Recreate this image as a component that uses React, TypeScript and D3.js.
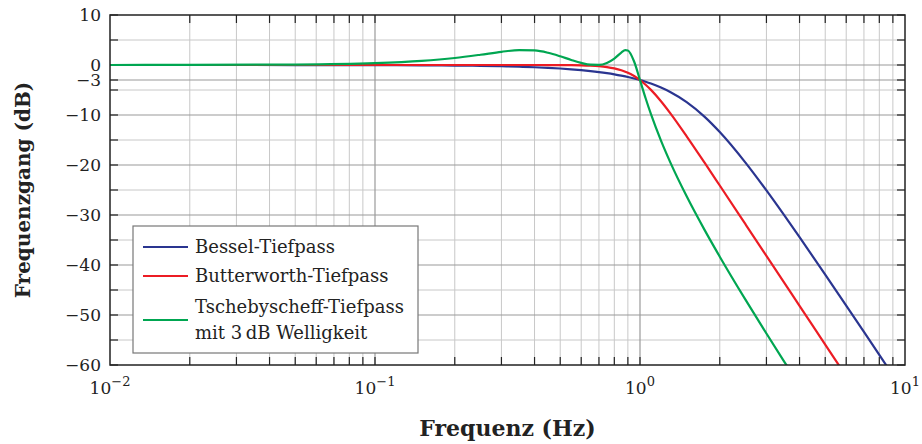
import React, { useEffect, useRef } from 'react';
import * as d3 from 'd3';

// Frequency points (Hz) and the read-off responses (dB)
const freqs = [0.01, 0.02, 0.05, 0.1, 0.15, 0.2, 0.25, 0.3, 0.35, 0.4, 0.45, 0.5, 0.55, 0.6, 0.65, 0.7, 0.75, 0.8, 0.85, 0.88, 0.9, 0.95, 1, 1.05, 1.1, 1.2, 1.3, 1.5, 1.75, 2, 2.5, 3, 3.5, 4, 5, 6, 7, 8, 9, 10];
const bessel = [0, -0.001, -0.007, -0.028, -0.063, -0.111, -0.174, -0.251, -0.342, -0.448, -0.569, -0.705, -0.857, -1.024, -1.208, -1.409, -1.627, -1.864, -2.12, -2.283, -2.396, -2.693, -3.01, -3.351, -3.714, -4.509, -5.395, -7.422, -10.317, -13.406, -19.518, -25.09, -30.038, -34.434, -41.921, -48.12, -53.397, -57.987, -62.046, -65.68];
const butterworth = [0, 0, 0, 0, 0, 0, 0, 0, -0.001, -0.003, -0.007, -0.017, -0.036, -0.072, -0.136, -0.243, -0.414, -0.674, -1.046, -1.334, -1.555, -2.209, -3.01, -3.94, -4.974, -7.243, -9.618, -14.254, -19.49, -24.1, -31.84, -38.17, -43.53, -48.16, -55.92, -62.25, -67.61, -72.25, -76.34, -80];
const tschebyscheff = [0.004, 0.015, 0.094, 0.371, 0.82, 1.404, 2.054, 2.639, 2.974, 2.907, 2.441, 1.741, 1.012, 0.415, 0.06, 0.035, 0.42, 1.283, 2.485, 2.976, 2.907, 0.707, -3.02, -6.653, -9.847, -15.137, -19.431, -26.273, -32.929, -38.338, -46.933, -53.7, -59.309, -64.109, -71.9, -78.2, -83.6, -88.2, -92.3, -96];

const yTicks = [10, 0, -3, -10, -20, -30, -40, -50, -60];
const yMinor = [5, -5, -15, -25, -35, -45, -55];
const xDecades = [-2, -1, 0, 1];

const seriesNames = ['Bessel-Tiefpass', 'Butterworth-Tiefpass', 'Tschebyscheff-Tiefpass'];
const seriesColors = ['#2a3590', '#ec1c24', '#00a651'];

const App = () => {
  const ref = useRef<SVGSVGElement | null>(null);

  useEffect(() => {
    const width = 922;
    const height = 444;
    const margin = { top: 15, right: 17, bottom: 79, left: 110 };
    const svg = d3.select(ref.current);
    svg.selectAll('*').remove();
    svg.attr('width', width).attr('height', height);

    const x = d3.scaleLog().domain([0.01, 10]).range([margin.left, width - margin.right]);
    const y = d3.scaleLinear().domain([-60, 10]).range([height - margin.bottom, margin.top]);
    const [x0, x1] = x.range();
    const [y0, y1] = y.range();

    const font = '"DejaVu Serif", "Liberation Serif", serif';

    // grid: minor decade lines
    const minorX: number[] = [];
    xDecades.slice(0, 3).forEach(d => {
      for (let k = 2; k <= 9; k++) minorX.push(k * Math.pow(10, d));
    });
    const grid = svg.append('g');
    grid.selectAll('.gx').data(minorX).enter().append('line')
      .attr('x1', d => x(d)).attr('x2', d => x(d))
      .attr('y1', y1).attr('y2', y0)
      .attr('stroke', '#c8c8c8').attr('stroke-width', 1);
    grid.selectAll('.gy').data(yMinor).enter().append('line')
      .attr('x1', x0).attr('x2', x1)
      .attr('y1', d => y(d)).attr('y2', d => y(d))
      .attr('stroke', '#c8c8c8').attr('stroke-width', 1);
    grid.selectAll('.gX').data(xDecades.slice(1, 3)).enter().append('line')
      .attr('x1', d => x(Math.pow(10, d))).attr('x2', d => x(Math.pow(10, d)))
      .attr('y1', y1).attr('y2', y0)
      .attr('stroke', '#9a9a9a').attr('stroke-width', 1.2);
    grid.selectAll('.gY').data(yTicks.slice(1, -1)).enter().append('line')
      .attr('x1', x0).attr('x2', x1)
      .attr('y1', d => y(d)).attr('y2', d => y(d))
      .attr('stroke', '#9a9a9a').attr('stroke-width', 1.2);

    // ticks (inside, on all four sides)
    const ticks = svg.append('g').attr('stroke', '#222').attr('stroke-width', 1.2);
    const allX = minorX.concat(xDecades.slice(1, 3).map(d => Math.pow(10, d)));
    allX.forEach(v => {
      ticks.append('line').attr('x1', x(v)).attr('x2', x(v)).attr('y1', y0).attr('y2', y0 - 8);
      ticks.append('line').attr('x1', x(v)).attr('x2', x(v)).attr('y1', y1).attr('y2', y1 + 8);
    });
    yTicks.concat(yMinor).forEach(v => {
      ticks.append('line').attr('x1', x0).attr('x2', x0 + 8).attr('y1', y(v)).attr('y2', y(v));
      ticks.append('line').attr('x1', x1).attr('x2', x1 - 8).attr('y1', y(v)).attr('y2', y(v));
    });

    // curves
    svg.append('clipPath').attr('id', 'plot-clip')
      .append('rect').attr('x', x0).attr('y', y1).attr('width', x1 - x0).attr('height', y0 - y1);
    const line = d3.line<number>()
      .x((_, i) => x(freqs[i]))
      .y(d => y(d))
      .curve(d3.curveMonotoneX);
    const curves = svg.append('g').attr('clip-path', 'url(#plot-clip)');
    [bessel, butterworth, tschebyscheff].forEach((s, i) => {
      curves.append('path')
        .attr('d', line(s))
        .attr('fill', 'none')
        .attr('stroke', seriesColors[i])
        .attr('stroke-width', 2.2);
    });

    // frame
    svg.append('rect')
      .attr('x', x0).attr('y', y1).attr('width', x1 - x0).attr('height', y0 - y1)
      .attr('fill', 'none').attr('stroke', '#222').attr('stroke-width', 1.5);

    // y tick labels
    svg.append('g').selectAll('text').data(yTicks).enter().append('text')
      .attr('x', x0 - 9)
      .attr('y', d => y(d) + 6)
      .attr('text-anchor', 'end')
      .style('font-family', font).style('font-size', '17px').style('fill', '#222')
      .text(d => (d < 0 ? '\u2212' + Math.abs(d) : String(d)));

    // x tick labels (10^n)
    xDecades.forEach(d => {
      const t = svg.append('text')
        .attr('x', x(Math.pow(10, d)))
        .attr('y', y0 + 29)
        .attr('text-anchor', 'middle')
        .style('font-family', font).style('font-size', '17px').style('fill', '#222');
      t.append('tspan').text('10');
      t.append('tspan').attr('dy', -8).style('font-size', '13px')
        .text(d < 0 ? '\u2212' + Math.abs(d) : String(d));
    });

    // axis titles
    svg.append('text')
      .attr('x', (x0 + x1) / 2).attr('y', 436)
      .attr('text-anchor', 'middle')
      .style('font-family', font).style('font-size', '22px').style('font-weight', 'bold').style('fill', '#222')
      .text('Frequenz (Hz)');
    svg.append('text')
      .attr('transform', `translate(30,${(y0 + y1) / 2}) rotate(-90)`)
      .attr('text-anchor', 'middle')
      .style('font-family', font).style('font-size', '20px').style('font-weight', 'bold').style('fill', '#222')
      .text('Frequenzgang (dB)');

    // legend
    const lg = svg.append('g');
    lg.append('rect').attr('x', 133).attr('y', 226).attr('width', 285).attr('height', 127)
      .attr('fill', '#fff').attr('stroke', '#777').attr('stroke-width', 1.2);
    const rowY = [247, 276, 320];
    seriesNames.forEach((name, i) => {
      lg.append('line').attr('x1', 143).attr('x2', 188).attr('y1', rowY[i]).attr('y2', rowY[i])
        .attr('stroke', seriesColors[i]).attr('stroke-width', 2);
      lg.append('text').attr('x', 195).attr('y', i < 2 ? rowY[i] + 6 : rowY[i] - 7)
        .style('font-family', font).style('font-size', '18px').style('fill', '#222')
        .text(name);
    });
    lg.append('text').attr('x', 195).attr('y', 339)
      .style('font-family', font).style('font-size', '18px').style('fill', '#222')
      .text('mit 3\u2009dB Welligkeit');
  }, []);

  return (
    <div style={{ position: 'absolute', left: 0, top: 0 }}>
      <svg ref={ref}></svg>
    </div>
  );
};

export default App;
